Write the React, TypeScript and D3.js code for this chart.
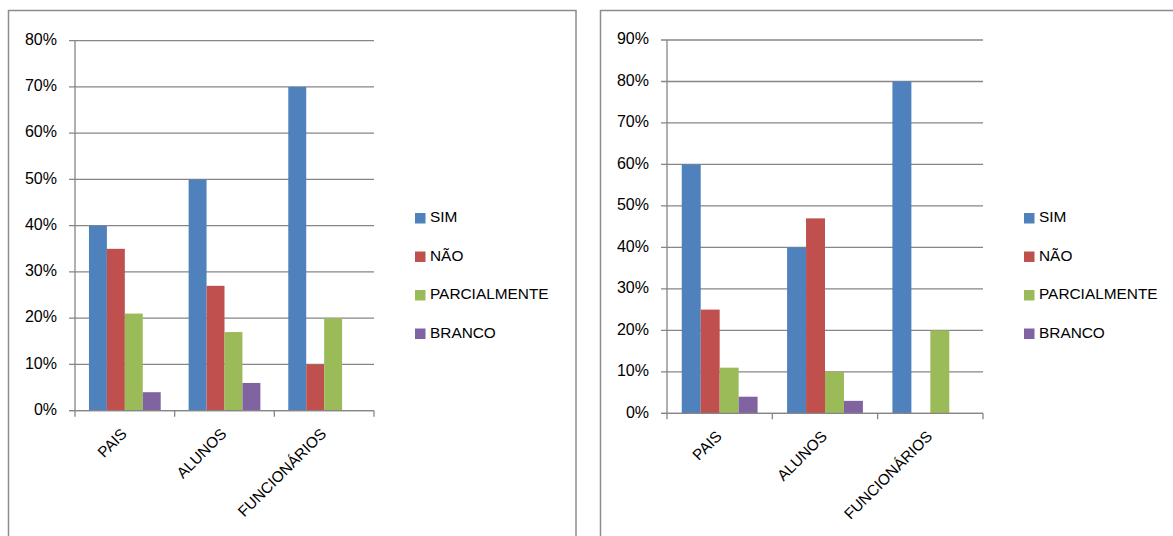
import React from "react";
import * as d3 from "d3";

const categories = ["PAIS", "ALUNOS", "FUNCIONÁRIOS"];
const seriesNames = ["SIM", "NÃO", "PARCIALMENTE", "BRANCO"];
const seriesColors = ["#4F81BD", "#C0504D", "#9BBB59", "#8064A2"];

// Chart 1 values (fraction)
const chart1Sim = [0.4, 0.5, 0.7];
const chart1Nao = [0.35, 0.27, 0.1];
const chart1Parcial = [0.21, 0.17, 0.2];
const chart1Branco = [0.04, 0.06, 0];
const chart1Ticks = [0, 0.1, 0.2, 0.3, 0.4, 0.5, 0.6, 0.7, 0.8];

// Chart 2 values (fraction)
const chart2Sim = [0.6, 0.4, 0.8];
const chart2Nao = [0.25, 0.47, 0];
const chart2Parcial = [0.11, 0.1, 0.2];
const chart2Branco = [0.04, 0.03, 0];
const chart2Ticks = [0, 0.1, 0.2, 0.3, 0.4, 0.5, 0.6, 0.7, 0.8, 0.9];

const FONT = "'Liberation Sans', Arial, sans-serif";
const GRID = "#868686";

type ChartProps = {
  values: number[][];
  ticks: number[];
  frameX0: number;
  frameX1: number;
  plotLeft: number;
  plotRight: number;
  plotTop: number;
  plotBottom: number;
  legendX: number;
};

function Chart(p: ChartProps) {
  const yMax = p.ticks[p.ticks.length - 1];
  const y = d3.scaleLinear().domain([0, yMax]).range([p.plotBottom, p.plotTop]);
  const x = d3.scaleBand<string>().domain(categories).range([p.plotLeft, p.plotRight]).padding(0);
  const bw = x.bandwidth();
  const inner = d3
    .scaleBand<string>()
    .domain(seriesNames)
    .range([bw * 0.14, bw * 0.86])
    .padding(0);
  const fmt = d3.format(".0%");
  const boundaries = [...categories.map((c) => x(c) as number), p.plotRight];
  const legendY0 = 218;
  const legendStep = 38.5;

  return (
    <g>
      <rect
        x={p.frameX0}
        y={10.5}
        width={p.frameX1 - p.frameX0}
        height={600}
        fill="#fff"
        stroke="#8c8c8c"
        strokeWidth={1.5}
      />
      {p.ticks.map((t) => (
        <g key={t}>
          <line
            x1={p.plotLeft - 6}
            x2={p.plotRight}
            y1={y(t)}
            y2={y(t)}
            stroke={GRID}
            strokeWidth={1.3}
          />
          <text
            x={p.plotLeft - 18}
            y={y(t)}
            textAnchor="end"
            dominantBaseline="middle"
            fontFamily={FONT}
            fontSize={16}
            fill="#000"
          >
            {fmt(t)}
          </text>
        </g>
      ))}
      <line
        x1={p.plotLeft}
        x2={p.plotLeft}
        y1={p.plotTop}
        y2={p.plotBottom}
        stroke={GRID}
        strokeWidth={1.3}
      />
      {boundaries.map((b, i) => (
        <line key={i} x1={b} x2={b} y1={p.plotBottom} y2={p.plotBottom + 6} stroke={GRID} strokeWidth={1.3} />
      ))}
      {categories.map((c, ci) =>
        seriesNames.map((s, si) => {
          const v = p.values[si][ci];
          if (!v) return null;
          return (
            <rect
              key={c + s}
              x={(x(c) as number) + (inner(s) as number)}
              y={y(v)}
              width={inner.bandwidth()}
              height={y(0) - y(v)}
              fill={seriesColors[si]}
            />
          );
        })
      )}
      <line
        x1={p.plotLeft - 6}
        x2={p.plotRight}
        y1={p.plotBottom}
        y2={p.plotBottom}
        stroke={GRID}
        strokeWidth={1.3}
      />
      {categories.map((c) => {
        const cx = (x(c) as number) + bw / 2 + 3;
        const cy = p.plotBottom + 24;
        return (
          <text
            key={c}
            transform={`translate(${cx},${cy}) rotate(-45)`}
            textAnchor="end"
            fontFamily={FONT}
            fontSize={15.3}
            fill="#000"
          >
            {c}
          </text>
        );
      })}
      {seriesNames.map((s, si) => (
        <g key={s}>
          <rect
            x={p.legendX}
            y={legendY0 + si * legendStep - 5}
            width={10.5}
            height={10.5}
            fill={seriesColors[si]}
          />
          <text
            x={p.legendX + 15}
            y={legendY0 + si * legendStep}
            dominantBaseline="middle"
            fontFamily={FONT}
            fontSize={15.4}
            fill="#000"
          >
            {s}
          </text>
        </g>
      ))}
    </g>
  );
}

export default function App() {
  return (
    <svg
      width={1173}
      height={536}
      style={{ position: "absolute", left: 0, top: 0, background: "#fff" }}
    >
      <rect x={0} y={0} width={1173} height={536} fill="#fff" />
      <Chart
        values={[chart1Sim, chart1Nao, chart1Parcial, chart1Branco]}
        ticks={chart1Ticks}
        frameX0={8.5}
        frameX1={576}
        plotLeft={75}
        plotRight={374}
        plotTop={40.7}
        plotBottom={410.7}
        legendX={415}
      />
      <Chart
        values={[chart2Sim, chart2Nao, chart2Parcial, chart2Branco]}
        ticks={chart2Ticks}
        frameX0={600.5}
        frameX1={1200}
        plotLeft={667}
        plotRight={983}
        plotTop={40}
        plotBottom={413.3}
        legendX={1024}
      />
    </svg>
  );
}
